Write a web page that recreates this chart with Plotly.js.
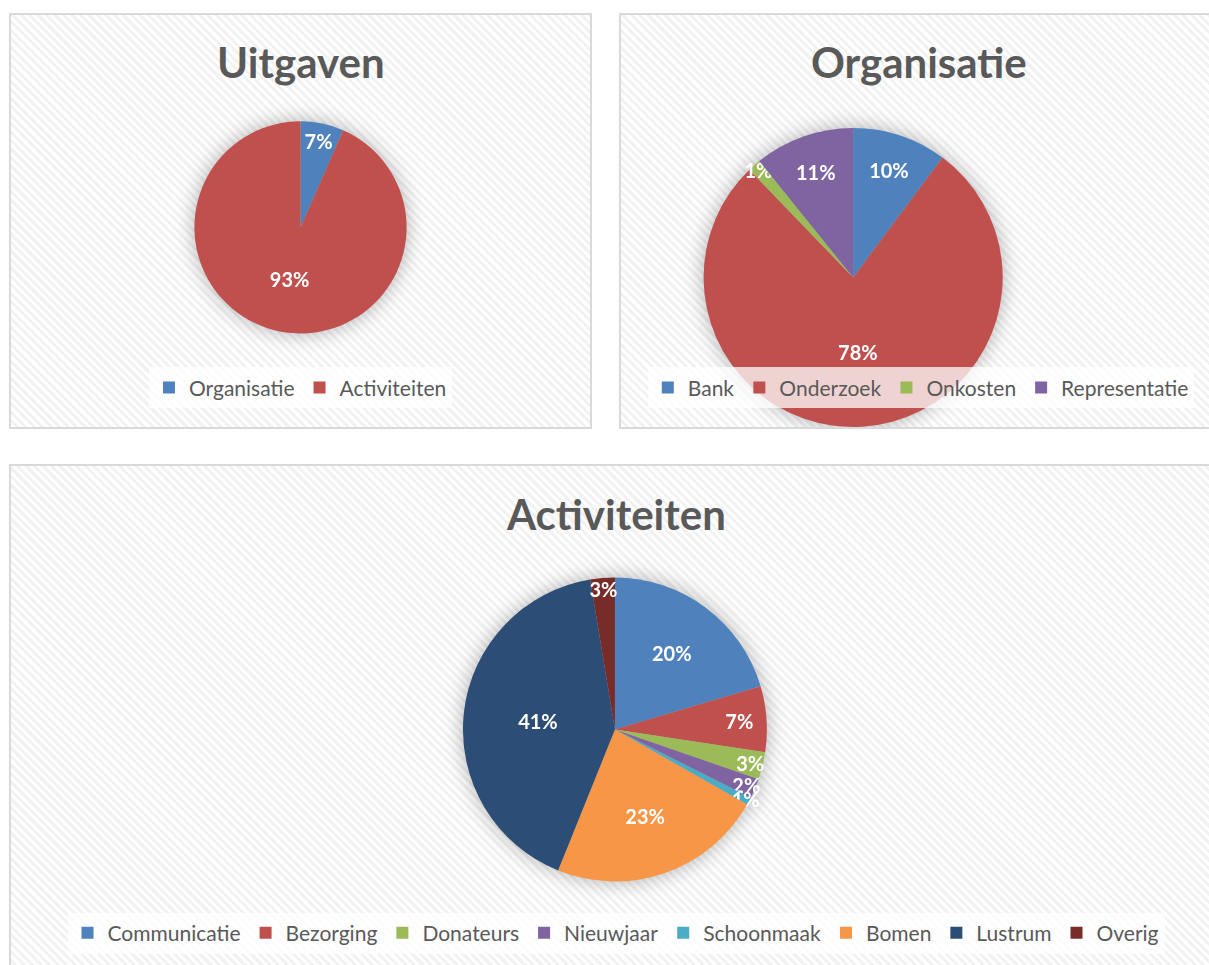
<!DOCTYPE html>
<html>
<head>
<meta charset="utf-8">
<script src="https://cdn.plot.ly/plotly-3.0.1.min.js"></script>
<style>
  html, body { margin:0; padding:0; width:1209px; height:965px; overflow:hidden; background:#ffffff; }
  .panel {
    position:absolute; box-sizing:border-box; border:2px solid #d9d9d9;
    background: repeating-linear-gradient(45deg, #ffffff 0px, #ffffff 3px, #f2f2f2 3px, #f2f2f2 6px);
  }
  .panel .pielayer .trace { filter: drop-shadow(0 0 10px rgba(0,0,0,0.3)); }
</style>
</head>
<body>
<div id="p1" class="panel" style="left:9px; top:13px; width:583px; height:416px;"></div>
<div id="p2" class="panel" style="left:619px; top:13px; width:600px; height:416px;"></div>
<div id="p3" class="panel" style="left:9px; top:464px; width:1214px; height:530px;"></div>
<script>
// ---- data ----
const uitgavenLabels = ["Organisatie", "Activiteiten"];
const uitgavenValues = [6.6, 93.4];

const organisatieLabels = ["Bank", "Onderzoek", "Onkosten", "Representatie"];
const organisatieValues = [10.2, 77.6, 1.4, 10.8];

const activiteitenLabels = ["Communicatie", "Bezorging", "Donateurs", "Nieuwjaar", "Schoonmaak", "Bomen", "Lustrum", "Overig"];
const activiteitenValues = [20.4, 7.0, 2.9, 2.1, 0.8, 22.9, 41.3, 2.6];

const palette = ["#4F81BD", "#C0504D", "#9BBB59", "#8064A2", "#4BACC6", "#F79646", "#2C4D75", "#772C2A"];

const FONT = "Lato, 'Open Sans', sans-serif";
const config = {staticPlot: true, displayModeBar: false};

function pieTrace(labels, values, colors, dx, dy) {
  return {
    type: "pie", labels: labels, values: values, sort: false, direction: "clockwise", rotation: 0,
    marker: {colors: colors, line: {width: 0}},
    texttemplate: "%{percent:.0%}", textposition: "inside", insidetextorientation: "horizontal",
    textfont: {family: FONT, size: 20, color: "#ffffff", weight: "bold"},
    hoverinfo: "none",
    domain: {x: dx, y: dy}
  };
}

function layout(w, h, title, ty, legend) {
  return {
    width: w, height: h,
    margin: {l: 0, r: 0, t: 0, b: 0},
    paper_bgcolor: "rgba(0,0,0,0)", plot_bgcolor: "rgba(0,0,0,0)",
    showlegend: true,
    uniformtext: {mode: "show", minsize: 20},
    legend: Object.assign({
      orientation: "h", xanchor: "center", yanchor: "middle",
      bgcolor: "rgba(255,255,255,0.75)",
      font: {family: FONT, size: 21, color: "#595959"},
      itemclick: false, itemdoubleclick: false, traceorder: "normal"
    }, legend),
    annotations: [{
      text: title, xref: "paper", yref: "paper", x: 0.5, y: ty, xanchor: "center", yanchor: "middle",
      showarrow: false, font: {family: FONT, size: 42, color: "#595959", weight: "bold"}
    }]
  };
}

// Panel 1 (inner 579 x 412)
Plotly.newPlot("p1",
  [pieTrace(uitgavenLabels, uitgavenValues, palette.slice(0, 2), [0.3165, 0.6835], [0.227, 0.742])],
  layout(579, 412, "Uitgaven", 0.885, {x: 0.5, y: 0.095}), config);

// Panel 2 (inner 596 x 412)
Plotly.newPlot("p2",
  [pieTrace(organisatieLabels, organisatieValues, palette.slice(0, 4), [0.138, 0.641], [-0.003, 0.726])],
  layout(596, 412, "Organisatie", 0.885, {x: 0.503, y: 0.095}), config);

// Panel 3 (inner 1210 x 526)
Plotly.newPlot("p3",
  [pieTrace(activiteitenLabels, activiteitenValues, palette, [0.3735, 0.6247], [0.210, 0.788])],
  layout(1210, 526, "Activiteiten", 0.908, {x: 0.5, y: 0.112}), config);
</script>
</body>
</html>
